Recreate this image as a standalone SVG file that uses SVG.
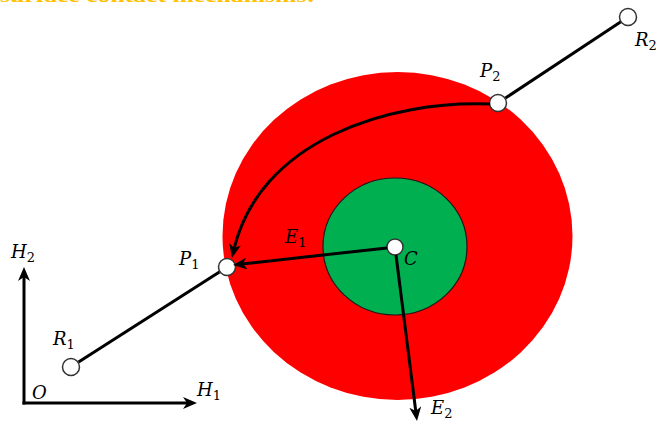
<svg xmlns="http://www.w3.org/2000/svg" width="657" height="423" viewBox="0 0 657 423">
<style>
.lbl{font-family:"DejaVu Serif","Liberation Serif",serif;font-style:italic;font-size:18px;fill:#000}
.sub{font-style:normal;font-size:13px}
.ln{stroke:#000;stroke-width:3;fill:none}
.nd{fill:#fff;stroke:#333;stroke-width:1.5}
</style>
<defs>
<marker id="ah" viewBox="0 0 14 12" refX="8" refY="6" markerWidth="14" markerHeight="12" markerUnits="userSpaceOnUse" orient="auto">
<path d="M0,0 L14,6 L0,12 L4,6 z" fill="#000"/>
</marker>
</defs>
<rect width="657" height="423" fill="#fff"/>
<text x="0" y="2" font-family="Liberation Serif,serif" font-weight="bold" font-size="18" fill="#FFC000" textLength="315" lengthAdjust="spacingAndGlyphs">surface contact mechanisms:</text>
<g id="outer"><ellipse cx="397.5" cy="236" rx="175" ry="164" fill="#FF0000"/></g>
<g id="inner"><ellipse cx="395" cy="246.5" rx="72" ry="68.5" fill="#00B050" stroke="#1a1a1a" stroke-width="1.2"/></g>
<g id="nodes">
<g id="node-C"><circle class="nd" cx="395" cy="247" r="8"/></g>
<g id="node-P1"><circle class="nd" cx="227" cy="267" r="8.5"/></g>
<g id="node-P2"><circle class="nd" cx="498" cy="103" r="8.5"/></g>
<g id="node-R1"><circle class="nd" cx="71" cy="367" r="8.5"/></g>
<g id="node-R2"><circle class="nd" cx="628" cy="17" r="8.5"/></g>
</g>
<g id="connectors">
<path class="ln" d="M78.6,362.1 L219.4,271.9"/>
<path class="ln" d="M505.5,98 L620.5,22"/>
<path class="ln" d="M387,247.9 L239,264.3" marker-end="url(#ah)"/>
<path class="ln" d="M396,255 L416.25,415" marker-end="url(#ah)"/>
<path class="ln" d="M490,104 C390,100 258,140 233.3,252" marker-end="url(#ah)"/>
<path class="ln" d="M24,404.5 L24,273" marker-end="url(#ah)"/>
<path class="ln" d="M22.5,403 L191,403" marker-end="url(#ah)"/>
</g>
<g id="labels">
<text class="lbl" x="11" y="258">H<tspan class="sub" dy="4">2</tspan></text>
<text class="lbl" x="179" y="265">P<tspan class="sub" dy="4">1</tspan></text>
<text class="lbl" x="53" y="345">R<tspan class="sub" dy="4">1</tspan></text>
<text class="lbl" x="32" y="399">O</text>
<text class="lbl" x="197" y="396">H<tspan class="sub" dy="4">1</tspan></text>
<text class="lbl" x="285" y="243">E<tspan class="sub" dy="4">1</tspan></text>
<text class="lbl" x="404" y="265">C</text>
<text class="lbl" x="431" y="414">E<tspan class="sub" dy="4">2</tspan></text>
<text class="lbl" x="480" y="77">P<tspan class="sub" dy="4">2</tspan></text>
<text class="lbl" x="635" y="46">R<tspan class="sub" dy="4">2</tspan></text>
</g>
</svg>
